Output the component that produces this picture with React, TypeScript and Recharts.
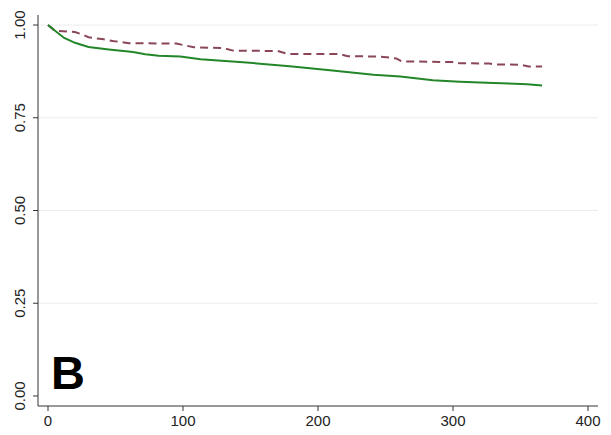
import { LineChart, Line, XAxis, YAxis, ReferenceLine } from "recharts";

// survival estimates (days -> proportion)
const groupATime = [0, 5, 12, 20, 30, 45, 63, 72, 82, 98, 113, 147, 179, 207, 241, 261, 285, 305, 330, 355, 366];
const groupASurv = [1, 0.985, 0.965, 0.952, 0.941, 0.934, 0.927, 0.921, 0.917, 0.915, 0.908, 0.899, 0.889, 0.879, 0.866, 0.861, 0.851, 0.847, 0.844, 0.84, 0.837];

const groupBTime = [0, 5, 20, 25, 30, 40, 48, 60, 95, 108, 130, 137, 170, 178, 216, 222, 246, 258, 262, 300, 305, 327, 330, 350, 356, 366];
const groupBSurv = [1, 0.985, 0.981, 0.975, 0.967, 0.962, 0.957, 0.951, 0.95, 0.94, 0.938, 0.931, 0.93, 0.922, 0.922, 0.916, 0.915, 0.91, 0.902, 0.9, 0.897, 0.896, 0.894, 0.893, 0.888, 0.888];

const xTicks = [0, 100, 200, 300, 400];
const yTicks = [0, 0.25, 0.5, 0.75, 1];
const gridLines = [0.25, 0.5, 0.75, 1];

const groupA = groupATime.map((t, i) => ({ t, s: groupASurv[i] }));
const groupB = groupBTime.map((t, i) => ({ t, s: groupBSurv[i] }));

const font = "'Liberation Sans', Arial, sans-serif";

const YTick = (props: any) => {
    const { x, y, payload } = props;
    return (
        <text
            x={x - 6}
            y={y}
            transform={`rotate(-90 ${x - 6} ${y})`}
            textAnchor="middle"
            fontSize={15}
            fontFamily={font}
            fill="#222"
        >
            {payload.value.toFixed(2)}
        </text>
    );
};

const XTick = (props: any) => {
    const { x, y, payload } = props;
    return (
        <text x={x} y={y + 13} textAnchor="middle" fontSize={15} fontFamily={font} fill="#222">
            {payload.value}
        </text>
    );
};

const App = () => {
    return (
        <div style={{ position: "absolute", left: 0, top: 0, width: 611, height: 435, background: "#fff" }}>
            <LineChart
                width={611}
                height={435}
                margin={{ top: 15, right: 13, left: 8, bottom: 0 }}
            >
                {gridLines.map((v) => (
                    <ReferenceLine key={v} y={v} stroke="#ececec" strokeWidth={1} />
                ))}
                <XAxis
                    type="number"
                    dataKey="t"
                    domain={[-7.4, 407.4]}
                    ticks={xTicks}
                    allowDataOverflow
                    height={29}
                    stroke="#333"
                    tickSize={5}
                    tick={<XTick />}
                />
                <YAxis
                    type="number"
                    domain={[-0.027, 1.027]}
                    ticks={yTicks}
                    allowDataOverflow
                    width={30}
                    stroke="#333"
                    tickSize={5}
                    tick={<YTick />}
                />
                <Line
                    data={groupB}
                    dataKey="s"
                    type="linear"
                    stroke="#8a4656"
                    strokeWidth={2}
                    strokeDasharray="8 5"
                    dot={false}
                    isAnimationActive={false}
                />
                <Line
                    data={groupA}
                    dataKey="s"
                    type="linear"
                    stroke="#23872a"
                    strokeWidth={2}
                    dot={false}
                    isAnimationActive={false}
                />
            </LineChart>
            <div
                style={{
                    position: "absolute",
                    left: 51,
                    top: 347,
                    fontFamily: "'Liberation Sans', Arial, sans-serif",
                    fontWeight: "bold",
                    fontSize: 47,
                    lineHeight: "52px",
                    color: "#000",
                }}
            >
                B
            </div>
        </div>
    );
};

export default App;
